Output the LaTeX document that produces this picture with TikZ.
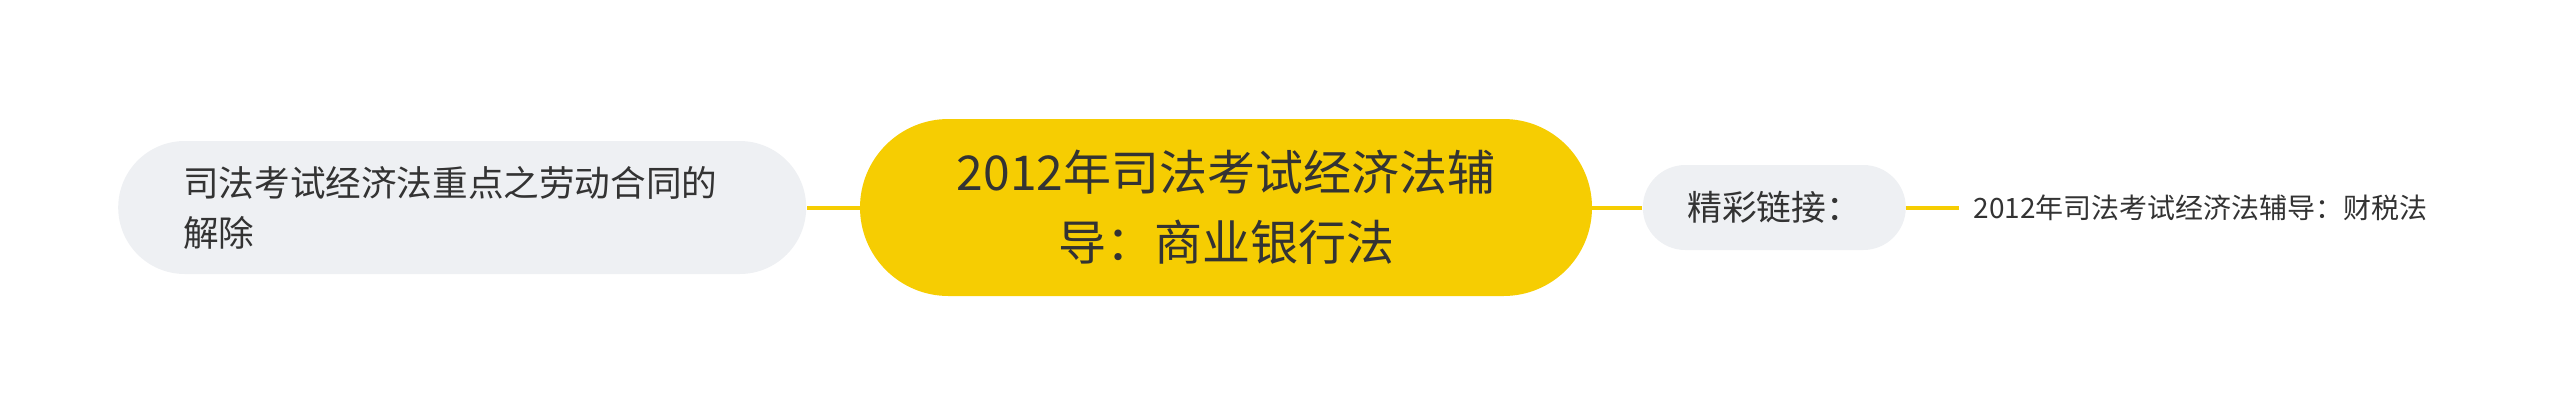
\documentclass[tikz,border=0pt]{standalone}
\usepackage{fontspec}
\setmainfont{Noto Sans CJK SC}
\usepackage{xcolor}
\usetikzlibrary{positioning}
\definecolor{topicyellow}{HTML}{F6CD02}
\definecolor{subgray}{HTML}{EEF0F3}
\definecolor{textdark}{HTML}{333333}

\begin{document}
\begin{tikzpicture}[x=0.5pt,y=-0.5pt,
    topic/.style={fill=topicyellow, rounded corners=44.25pt, minimum width=366pt, minimum height=88.5pt, align=center, text=textdark, font=\fontsize{24}{35}\selectfont},
    subtopic/.style={fill=subgray, text=textdark, inner sep=0pt},
    leaf/.style={text=textdark, inner xsep=7pt, font=\fontsize{14}{18}\selectfont},
    link/.style={draw=topicyellow, line width=2pt}]
  \useasboundingbox (0,0) rectangle (2560,414);

  % centre
  \node[topic] (main) at (1226,207.5) {2012年司法考试经济法辅\\导：商业银行法};

  % left branch
  \node[subtopic, left=26.5pt of main, rounded corners=33.25pt, minimum width=344pt, minimum height=66.5pt, text width=279pt, align=left, font=\fontsize{17.8}{25}\selectfont] (labour) {司法考试经济法重点之劳动合同的\\解除};

  % right branch
  \node[subtopic, right=25pt of main, rounded corners=21.25pt, minimum width=131.5pt, minimum height=42.5pt, font=\fontsize{17.4}{20}\selectfont] (links) {精彩链接：};
  \node[leaf, right=26.5pt of links] (tax) {2012年司法考试经济法辅导：财税法};

  \draw[link] (main.west) -- (labour.east);
  \draw[link] (main.east) -- (links.west);
  \draw[link] (links.east) -- (tax.west);
\end{tikzpicture}
\end{document}
